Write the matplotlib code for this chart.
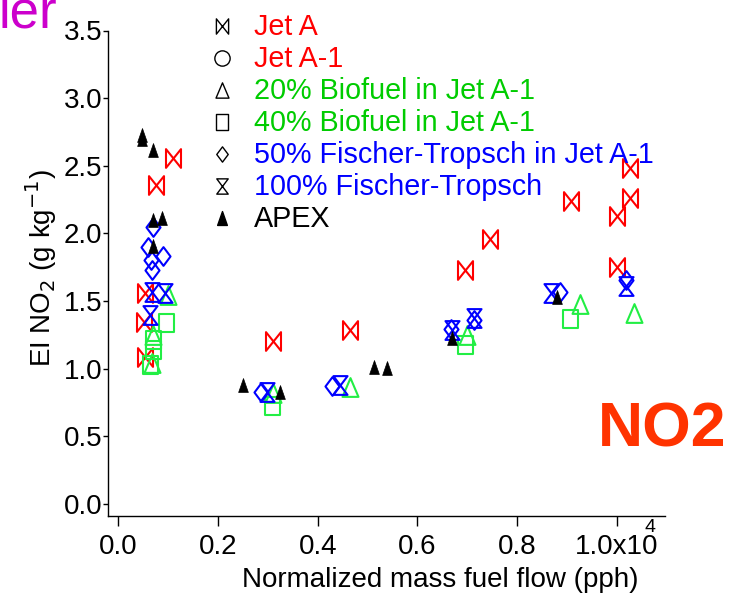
import matplotlib.pyplot as plt
from matplotlib.path import Path

plt.rcParams['font.family'] = ['Liberation Sans', 'DejaVu Sans']

# normalized mass fuel flow (x1e4 pph) and EI NO2 (g/kg) per fuel
jet_a_x = [0.053, 0.052, 0.053, 0.075, 0.109, 0.310, 0.465, 0.696, 0.745,
           0.908, 1.002, 1.002, 1.027, 1.027]
jet_a_y = [1.557, 1.347, 1.084, 2.358, 2.555, 1.207, 1.286, 1.729, 1.956,
           2.242, 1.749, 2.129, 2.259, 2.481]

bio20_x = [0.099, 0.070, 0.067, 0.310, 0.464, 0.700, 0.927, 1.035]
bio20_y = [1.545, 1.249, 1.040, 0.818, 0.862, 1.249, 1.478, 1.414]

bio40_x = [0.095, 0.070, 0.070, 0.063, 0.308, 0.696, 0.907]
bio40_y = [1.336, 1.212, 1.138, 1.027, 0.724, 1.175, 1.365]

ft50_x = [0.070, 0.060, 0.090, 0.065, 0.067, 0.286, 0.428, 0.667, 0.714,
          0.887, 1.020]
ft50_y = [2.050, 1.900, 1.830, 1.800, 1.730, 0.830, 0.872, 1.290, 1.360,
          1.569, 1.656]

ft100_x = [0.067, 0.093, 0.063, 0.299, 0.445, 0.670, 0.714, 0.868, 1.020]
ft100_y = [1.569, 1.557, 1.397, 0.830, 0.880, 1.286, 1.375, 1.562, 1.611]

apex_x = [0.047, 0.048, 0.070, 0.070, 0.088, 0.070, 0.249, 0.324, 0.513,
          0.540, 0.670, 0.881]
apex_y = [2.730, 2.700, 2.615, 2.099, 2.116, 1.907, 0.880, 0.830, 1.015,
          1.003, 1.227, 1.528]

labels = ['Jet A', 'Jet A-1', '20% Biofuel in Jet A-1', '40% Biofuel in Jet A-1',
          '50% Fischer-Tropsch in Jet A-1', '100% Fischer-Tropsch', 'APEX']
label_colors = ['#ff0000', '#ff0000', '#00cc00', '#00cc00', '#0000ff', '#0000ff', 'black']

xticks = [0.0, 0.2, 0.4, 0.6, 0.8, 1.0]
xticklabels = ['0.0', '0.2', '0.4', '0.6', '0.8', '1.0x10']
yticks = [0.0, 0.5, 1.0, 1.5, 2.0, 2.5, 3.0, 3.5]

# marker shapes (a bit taller than wide)
M, L, C = Path.MOVETO, Path.LINETO, Path.CLOSEPOLY
bowtie = Path([(-0.8, -1), (-0.8, 1), (0.8, -1), (0.8, 1), (-0.8, -1)], [M, L, L, L, C])
hourglass = Path([(-0.75, 1), (0.75, 1), (-0.75, -1), (0.75, -1), (-0.75, 1)], [M, L, L, L, C])
diamond = Path([(0, 1), (0.75, 0), (0, -1), (-0.75, 0), (0, 1)], [M, L, L, L, C])
triangle = Path([(0, 1), (0.85, -1), (-0.85, -1), (0, 1)], [M, L, L, C])
square = Path([(-0.8, -1), (0.8, -1), (0.8, 1), (-0.8, 1), (-0.8, -1)], [M, L, L, L, C])
small_tri = Path([(0, 1), (0.7, -1), (-0.7, -1), (0, 1)], [M, L, L, C])

W, H = 738, 596


def fx(x):
    return x / W


def fy(y):
    return 1 - y / H


fig = plt.figure(figsize=(W / 100, H / 100), dpi=100)
left, right, top, bottom = 108.3, 665.0, 30.5, 516.0
ax = fig.add_axes([fx(left), fy(bottom), (right - left) / W, (bottom - top) / H])

x0, xs = 118.5, 498.0
y0, ys = 504.0, 135.3
ax.set_xlim((left - x0) / xs, (right - x0) / xs)
ax.set_ylim((y0 - bottom) / ys, (y0 - top) / ys)

hollow = dict(linestyle='none', markersize=13.5, markerfacecolor='none', markeredgewidth=1.5)
ax.plot(jet_a_x, jet_a_y, marker=bowtie, color='#ff0000', **hollow)
ax.plot(bio20_x, bio20_y, marker=triangle, color='#22ee44', **hollow)
ax.plot(bio40_x, bio40_y, marker=square, color='#22ee44', **hollow)
ax.plot(ft50_x, ft50_y, marker=diamond, color='#0000ff', **hollow)
ax.plot(ft100_x, ft100_y, marker=hourglass, color='#0000ff', **hollow)
ax.plot(apex_x, apex_y, marker=small_tri, linestyle='none', markersize=10,
        color='black', markeredgewidth=0.5)

for side in ['top', 'right']:
    ax.spines[side].set_visible(False)
for side in ['left', 'bottom']:
    ax.spines[side].set_linewidth(1.0)

ax.set_xticks(xticks)
ax.set_xticklabels(xticklabels)
ax.set_yticks(yticks)
ax.set_yticklabels(['%.1f' % v for v in yticks])
ax.tick_params(axis='x', direction='out', length=7, width=1, pad=6, labelsize=20)
ax.tick_params(axis='y', direction='out', length=3.6, width=1, pad=0.5, labelsize=20)

# exponent of the last x tick label
fig.text(fx(650), fy(528), '4', fontsize=14, ha='center', va='center')

fig.text(fx(440), fy(580), 'Normalized mass fuel flow (pph)', fontsize=20,
         ha='center', va='center')
fig.text(fx(41), fy(268), 'EI NO$_2$ (g kg$^{-1}$)', fontsize=20, rotation=90,
         ha='center', va='center')

# legend drawn by hand: black symbols, coloured labels
legend_markers = [bowtie, 'o', triangle, square, diamond, hourglass, small_tri]
for i, (lab, col, mk) in enumerate(zip(labels, label_colors, legend_markers)):
    base = 35 + 32 * i
    filled = lab == 'APEX'
    fig.lines.append(plt.Line2D([fx(222)], [fy(base - 9)], transform=fig.transFigure,
                                marker=mk, markersize=10 if filled else 11,
                                markerfacecolor='black' if filled else 'none',
                                markeredgecolor='black', markeredgewidth=1.0,
                                linestyle='none'))
    fig.text(fx(254), fy(base), lab, color=col, fontsize=20.7, ha='left', va='baseline')

fig.text(fx(662.5), fy(430), 'NO2', color='#ff3300', fontsize=45, fontweight='bold',
         ha='center', va='center')
fig.text(fx(-2), fy(28), 'ler', color='#cc00cc', fontsize=38, ha='left', va='baseline')

fig.savefig('out.png', dpi=100)
